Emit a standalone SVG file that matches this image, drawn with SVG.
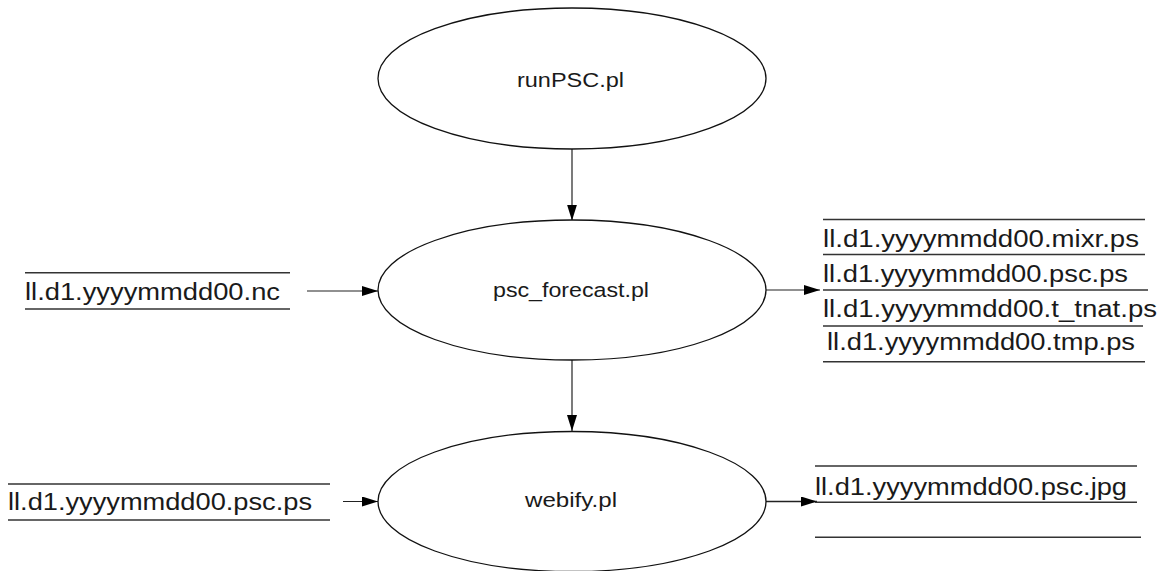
<svg xmlns="http://www.w3.org/2000/svg" width="1164" height="571" viewBox="0 0 1164 571">
<style>
.node{fill:#fff;stroke:#111;stroke-width:1.3}
.lbl{font-family:"Liberation Sans",Arial,sans-serif;font-size:20.5px;fill:#1a1a1a;text-anchor:start}
.file{font-family:"Liberation Sans",Arial,sans-serif;font-size:23.5px;fill:#1a1a1a}
.rule{stroke:#333;stroke-width:1.5;fill:none}
.edge{stroke:#222;stroke-width:1.2;fill:none;marker-end:url(#ah)}
</style>
<defs>
<marker id="ah" markerUnits="userSpaceOnUse" markerWidth="17" markerHeight="11" refX="16" refY="5" orient="auto">
<path d="M0,0 L16,5 L0,10 Z" fill="#000"/>
</marker>
</defs>
<rect width="1164" height="571" fill="#fff"/>
<g id="connectors">
<line class="edge" x1="572" y1="149" x2="572" y2="220.5"/>
<line class="edge" x1="572" y1="360" x2="572" y2="431"/>
<line class="edge" x1="307" y1="291" x2="378" y2="291"/>
<line class="edge" x1="766" y1="290" x2="820" y2="290"/>
<line class="edge" x1="343" y1="501.5" x2="378" y2="501.5"/>
<line class="edge" x1="766" y1="501.5" x2="817" y2="501.5" style="stroke-width:1.6"/>
</g>
<g id="runPSC">
<ellipse class="node" cx="572" cy="78.5" rx="194" ry="70.5"/>
<text class="lbl" x="517" y="87" textLength="107" lengthAdjust="spacingAndGlyphs">runPSC.pl</text>
</g>
<g id="psc_forecast">
<ellipse class="node" cx="572" cy="290" rx="194" ry="70"/>
<text class="lbl" x="493" y="297" textLength="156" lengthAdjust="spacingAndGlyphs">psc_forecast.pl</text>
</g>
<g id="webify">
<ellipse class="node" cx="572" cy="501.5" rx="194" ry="70"/>
<text class="lbl" x="525" y="507" textLength="92" lengthAdjust="spacingAndGlyphs">webify.pl</text>
</g>
<g id="input_nc">
<line class="rule" x1="25" y1="272.7" x2="290" y2="272.7"/>
<line class="rule" x1="25" y1="309" x2="290" y2="309"/>
<text class="file" x="25" y="300" textLength="255" lengthAdjust="spacingAndGlyphs">ll.d1.yyyymmdd00.nc</text>
</g>
<g id="output_ps">
<line class="rule" x1="823" y1="219.5" x2="1145" y2="219.5"/>
<line class="rule" x1="823" y1="254.5" x2="1145" y2="254.5"/>
<line class="rule" x1="823" y1="290" x2="1148" y2="290"/>
<line class="rule" x1="823" y1="326" x2="1143" y2="326"/>
<line class="rule" x1="823" y1="361.7" x2="1145" y2="361.7"/>
<text class="file" x="823" y="246.7" textLength="316" lengthAdjust="spacingAndGlyphs">ll.d1.yyyymmdd00.mixr.ps</text>
<text class="file" x="823" y="281.7" textLength="305" lengthAdjust="spacingAndGlyphs">ll.d1.yyyymmdd00.psc.ps</text>
<text class="file" x="823" y="316.7" textLength="334" lengthAdjust="spacingAndGlyphs">ll.d1.yyyymmdd00.t_tnat.ps</text>
<text class="file" x="827" y="350" textLength="308" lengthAdjust="spacingAndGlyphs">ll.d1.yyyymmdd00.tmp.ps</text>
</g>
<g id="input_ps">
<line class="rule" x1="8" y1="484" x2="330" y2="484"/>
<line class="rule" x1="8" y1="520" x2="330" y2="520"/>
<text class="file" x="8" y="510" textLength="304" lengthAdjust="spacingAndGlyphs">ll.d1.yyyymmdd00.psc.ps</text>
</g>
<g id="output_jpg">
<line class="rule" x1="815" y1="466" x2="1137" y2="466"/>
<line class="rule" x1="815" y1="502.3" x2="1137" y2="502.3"/>
<line class="rule" x1="815" y1="537.3" x2="1141" y2="537.3"/>
<text class="file" x="815" y="495" textLength="312" lengthAdjust="spacingAndGlyphs">ll.d1.yyyymmdd00.psc.jpg</text>
</g>
</svg>
